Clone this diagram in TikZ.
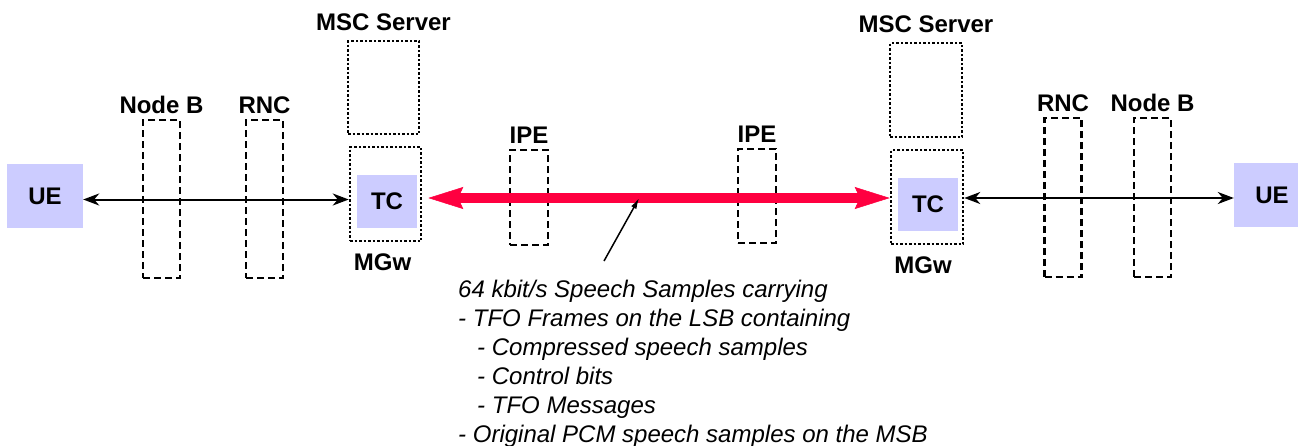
\documentclass[tikz,border=0pt]{standalone}
\usepackage{fontspec}
\setmainfont{Liberation Sans}
\usetikzlibrary{arrows.meta,positioning}
\definecolor{tclilac}{HTML}{CCCCFF}
\definecolor{tfored}{HTML}{FF0040}

\tikzset{
  elbox/.style={draw,line width=2.5pt,inner sep=0pt},
  dashbox/.style={elbox,dash pattern=on 7pt off 4pt,minimum width=37pt},
  dotbox/.style={elbox,dash pattern=on 2.5pt off 2pt,minimum width=71pt,minimum height=94pt},
  unitbox/.style={fill=tclilac,inner sep=0pt,font=\bfseries\fontsize{24}{29}\selectfont},
  lbl/.style={inner sep=0pt,font=\bfseries\fontsize{24}{29}\selectfont},
  redlink/.style={tfored,line width=10pt,
    {Stealth[length=35pt,width=22pt,inset=5pt,line width=0.5pt]}-{Stealth[length=35pt,width=22pt,inset=5pt,line width=0.5pt]}},
}

\begin{document}
\begin{tikzpicture}[x=1pt,y=-1pt,>={Stealth[length=16pt,width=12pt,inset=5pt]}]
        \clip (0,0) rectangle (1298,445);
        % left side
        \node[unitbox,minimum width=76pt,minimum height=64pt] (uel) at (45,196) {UE};
        \node[dashbox,minimum height=158pt] (nbl) at (161.5,199) {};
        \node[dashbox,minimum height=158pt] (rncl) at (264.5,199) {};
        \node[dotbox,minimum height=93pt] (mscl) at (383.5,87.5) {};
        \node[dotbox] (mgwl) at (385.5,194) {};
        \node[unitbox,minimum width=60pt,minimum height=53pt] (tcl) at (387,201.5) {TC};
        \node[lbl,above=5pt of nbl] (nbllbl) {Node B};
        \node[lbl,above=5pt of rncl] (rncllbl) {RNC};
        \node[lbl,above=9pt of mscl] (mscllbl) {MSC Server};
        \node[lbl,below=11pt of mgwl,xshift=-3pt] (mgwllbl) {MGw};
        % IPEs
        \node[dashbox,minimum width=38pt,minimum height=95pt] (ipel) at (529,197.5) {};
        \node[dashbox,minimum width=38pt,minimum height=94pt] (iper) at (757,196) {};
        \node[lbl,above=5pt of ipel] (ipellbl) {IPE};
        \node[lbl,above=5pt of iper] (iperlbl) {IPE};
        % right side
        \node[dotbox,minimum width=72pt] (mscr) at (926,90) {};
        \node[dotbox,minimum width=72pt] (mgwr) at (927,197) {};
        \node[unitbox,minimum width=60pt,minimum height=53pt] (tcr) at (928,204.5) {TC};
        \node[dashbox,minimum height=159pt] (rncr) at (1063,197.5) {};
        \node[dashbox,minimum height=159pt] (nbr) at (1152.5,197.5) {};
        \node[unitbox,minimum width=76pt,minimum height=64pt] (uer) at (1272,195) {UE};
        \node[lbl,above=9pt of mscr] (mscrlbl) {MSC Server};
        \node[lbl,below=11pt of mgwr,xshift=-4pt] (mgwrlbl) {MGw};
        \node[lbl,above=5pt of rncr] (rncrlbl) {RNC};
        \node[lbl,above=5pt of nbr] (nbrlbl) {Node B};
        % links
        \draw[<->,line width=2pt] ([yshift=-3.5pt]uel.east) -- ([yshift=-5.5pt]mgwl.west);
        \draw[<->,line width=2pt] ([yshift=-1pt]mgwr.east) -- ([yshift=-3pt]uer.west);
        \draw[redlink] ([xshift=6pt,yshift=-4pt]mgwl.east) -- coordinate[pos=0.457] (hit) ([yshift=-1pt]mgwr.west);
        % note
        \node[anchor=north west,inner sep=0pt,align=left,font=\itshape\fontsize{24}{29}\selectfont] (note) at (458,280)
          {64 kbit/s Speech Samples carrying\\
           - TFO Frames on the LSB containing\\
           \hspace*{19pt}- Compressed speech samples\\
           \hspace*{19pt}- Control bits\\
           \hspace*{19pt}- TFO Messages\\
           - Original PCM speech samples on the MSB};
        \coordinate (tail) at (604,261);
        \draw[-{Latex[length=11pt,width=6pt]},line width=1.5pt] (tail) -- (hit);
    \end{tikzpicture}
\end{document}
